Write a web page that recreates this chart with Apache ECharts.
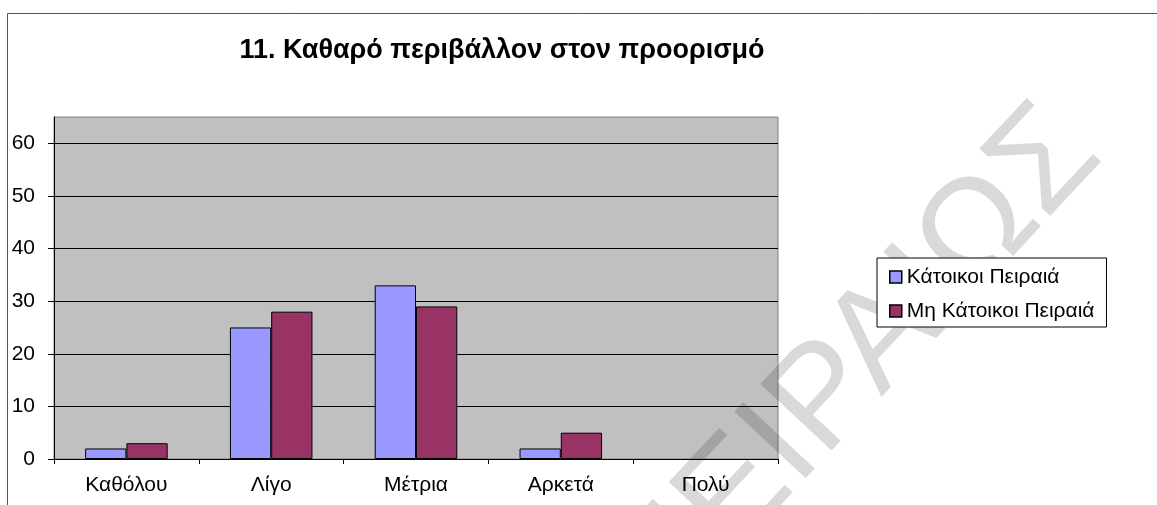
<!DOCTYPE html>
<html>
<head>
<meta charset="utf-8">
<script src="https://cdn.jsdelivr.net/npm/echarts@6/dist/echarts.min.js"></script>
<style>
  html, body { margin: 0; padding: 0; background: #fff; }
  #chart { width: 1157px; height: 505px; }
</style>
</head>
<body>
<div id="chart"></div>
<script>
// Survey answers: "clean environment at the destination"
const categories = ['Καθόλου', 'Λίγο', 'Μέτρια', 'Αρκετά', 'Πολύ'];
const residents = [2, 25, 33, 2, 0];
const nonResidents = [3, 28, 29, 5, 0];
const seriesNames = ['Κάτοικοι Πειραιά', 'Μη Κάτοικοι Πειραιά'];
const yTicks = [0, 10, 20, 30, 40, 50, 60];
const titleText = '11. Καθαρό περιβάλλον στον προορισμό';
const watermarkText = 'ΠΕΙΡΑΙΩΣ';

const FONT = 'Arial, "Liberation Sans", sans-serif';

// zero-height bars get no outline so nothing is drawn for them
function barData(values) {
  return values.map(v => (v === 0 ? { value: v, itemStyle: { borderWidth: 0 } } : v));
}

const chart = echarts.init(document.getElementById('chart'), null, { renderer: 'canvas' });

chart.setOption({
  animation: false,
  backgroundColor: '#ffffff',
  textStyle: { fontFamily: FONT, color: '#000' },
  title: {
    text: titleText,
    left: 497,
    top: 32,
    textAlign: 'center',
    textStyle: { fontFamily: FONT, fontSize: 27, fontWeight: 'bold', color: '#000' }
  },
  legend: {
    z: 10,
    orient: 'vertical',
    left: 877,
    top: 258,
    padding: [8, 12, 5, 12],
    itemGap: 12,
    itemWidth: 12,
    itemHeight: 12,
    icon: 'rect',
    borderColor: '#000',
    borderWidth: 1,
    backgroundColor: '#fff',
    itemStyle: { borderColor: '#000', borderWidth: 1.5 },
    textStyle: { fontFamily: FONT, fontSize: 21, color: '#000', lineHeight: 22 },
    data: seriesNames
  },
  grid: {
    left: 54,
    top: 117,
    right: 379,
    bottom: 46,
    show: true,
    backgroundColor: '#c0c0c0',
    borderColor: '#808080',
    borderWidth: 1,
    containLabel: false
  },
  xAxis: {
    type: 'category',
    data: categories,
    axisLine: { show: true, lineStyle: { color: '#000', width: 1 } },
    axisTick: { show: true, alignWithLabel: false, length: 5, lineStyle: { color: '#000' } },
    axisLabel: { fontFamily: FONT, fontSize: 21, color: '#000', margin: 16 },
    splitLine: { show: false }
  },
  yAxis: {
    type: 'value',
    min: 0,
    max: 65,
    interval: 10,
    axisLine: { show: true, lineStyle: { color: '#000', width: 1 } },
    axisTick: { show: true, length: 6, lineStyle: { color: '#000' }, customValues: yTicks },
    axisLabel: { fontFamily: FONT, fontSize: 21, color: '#000', margin: 19, customValues: yTicks },
    splitLine: { show: true, lineStyle: { color: '#000', width: 1 } }
  },
  series: [
    {
      name: seriesNames[0],
      type: 'bar',
      data: barData(residents),
      barGap: '0%',
      barCategoryGap: '43%',
      itemStyle: { color: '#9999ff', borderColor: '#000', borderWidth: 1 }
    },
    {
      name: seriesNames[1],
      type: 'bar',
      data: barData(nonResidents),
      barGap: '0%',
      barCategoryGap: '43%',
      itemStyle: { color: '#993366', borderColor: '#000', borderWidth: 1 }
    }
  ],
  graphic: [
    {
      type: 'line',
      z: 100,
      shape: { x1: 7.5, y1: 13.5, x2: 1157, y2: 13.5 },
      style: { stroke: '#555', lineWidth: 1 }
    },
    {
      type: 'line',
      z: 100,
      shape: { x1: 7.5, y1: 13.5, x2: 7.5, y2: 505 },
      style: { stroke: '#555', lineWidth: 1 }
    },
    {
      type: 'text',
      z: 3,
      silent: true,
      x: 855,
      y: 368,
      rotation: 47 * Math.PI / 180,
      style: {
        text: watermarkText,
        font: '142px ' + FONT,
        fill: 'rgba(0,0,0,0.15)',
        align: 'center',
        verticalAlign: 'middle'
      }
    }
  ]
});
</script>
</body>
</html>
